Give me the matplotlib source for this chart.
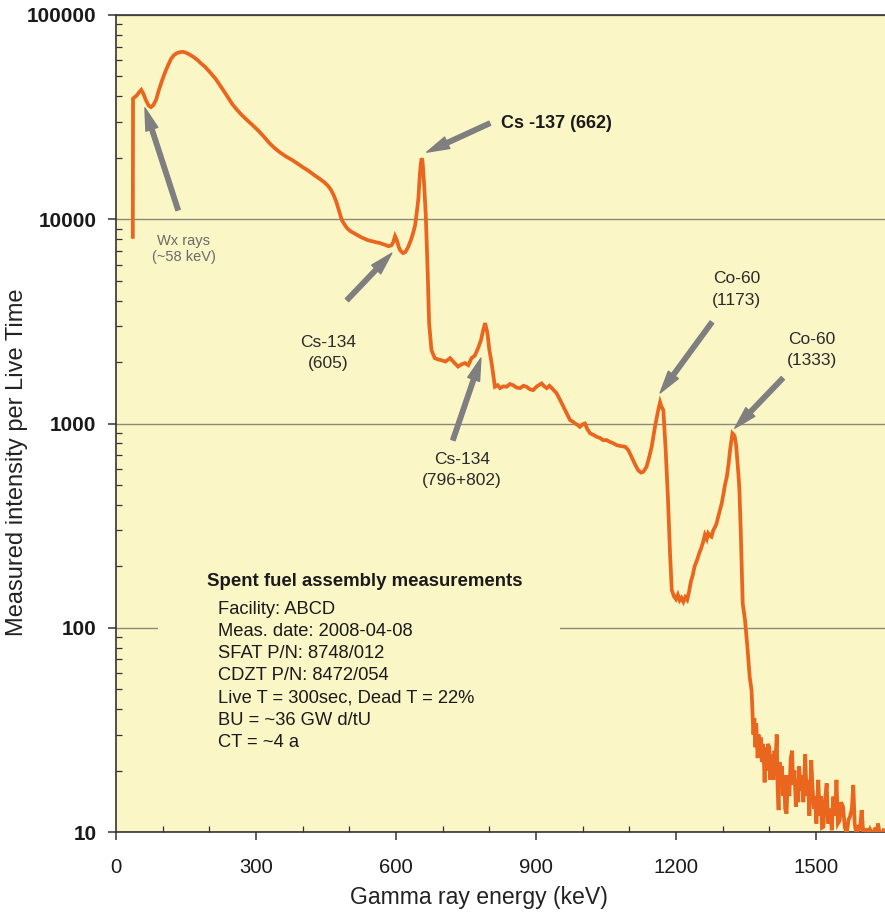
import matplotlib
matplotlib.use("Agg")
import matplotlib.pyplot as plt
from matplotlib.patches import Rectangle
from matplotlib.ticker import FixedLocator, MultipleLocator, LogLocator, NullFormatter

plt.rcParams['font.family'] = ['Liberation Sans', 'DejaVu Sans']

# Gamma spectrum of a spent fuel assembly (energy in keV, counts per live time)
energy_kev = [
    36, 36.5, 40, 45, 50, 54, 58, 64, 70, 75, 80, 86, 92, 99, 106, 112, 118, 124,
    130, 137, 144, 151, 158, 166, 174, 182, 190, 198, 206, 214, 222, 230, 240,
    250, 260, 270, 280, 292, 304, 316, 328, 340, 352, 364, 376, 388, 400, 412,
    424, 436, 446, 454, 460, 466, 472, 478, 484, 490, 496, 504, 514, 526, 540,
    554, 566, 576, 584, 590, 594, 598, 602, 606, 610, 615, 620, 626, 632, 637,
    641, 645, 648, 651, 653, 655, 657, 659, 661, 664, 668, 671, 676, 683, 690,
    698, 706, 716, 723, 733, 741, 748, 755, 762, 769, 776, 782, 787, 791, 796,
    800, 805, 812, 818, 823, 830, 837, 844, 851, 858, 866, 873, 880, 887, 894,
    902, 912, 918, 923, 929, 934, 944, 952, 959, 966, 973, 979, 984, 989, 994,
    1000, 1005, 1010, 1016, 1023, 1030, 1037, 1044, 1051, 1059, 1066, 1073,
    1082, 1091, 1098, 1103, 1108, 1114, 1119, 1125, 1130, 1137, 1143, 1148,
    1155, 1162, 1166, 1169, 1173, 1178, 1183, 1187, 1191, 1196, 1200, 1204,
    1208, 1212, 1216, 1220, 1224, 1228, 1232, 1236, 1240, 1245, 1250, 1254,
    1258, 1262, 1266, 1269, 1273, 1276, 1280, 1284, 1287, 1292, 1298, 1302,
    1305, 1309, 1313, 1316, 1319, 1321, 1324, 1326, 1329, 1331, 1334, 1336,
    1339, 1343, 1348, 1353, 1358, 1362, 1364, 1366, 1368, 1370, 1372, 1375,
    1377, 1380, 1382, 1384, 1386, 1388, 1390, 1392, 1394, 1397, 1400, 1402,
    1405, 1407, 1409, 1411, 1413, 1416, 1418, 1420, 1422, 1425, 1427, 1430,
    1432, 1434, 1437, 1440, 1443, 1446, 1449, 1451, 1454, 1457, 1460, 1462,
    1464, 1467, 1470, 1473, 1477, 1480, 1483, 1486, 1490, 1493, 1496, 1498,
    1501, 1505, 1508, 1511, 1513, 1516, 1519, 1523, 1526, 1529, 1531, 1534,
    1537, 1541, 1544, 1547, 1551, 1554, 1558, 1562, 1566, 1570, 1573, 1577,
    1580, 1583, 1587, 1591, 1594, 1598, 1601, 1605, 1609, 1612, 1616, 1619,
    1623, 1627, 1630, 1633, 1637, 1641, 1645,
]
counts = [
    8200, 39000, 39600, 40500, 42000, 43000, 41500, 38300, 36000, 35400, 36200,
    38500, 43000, 48000, 53000, 57000, 61000, 63500, 65000, 65800, 66000, 65200,
    64000, 62300, 60400, 58000, 56000, 53500, 51000, 48500, 45600, 42800, 39500,
    36400, 34200, 32300, 30700, 29000, 27300, 25500, 23700, 22300, 21200, 20300,
    19600, 18800, 18000, 17300, 16500, 15800, 15200, 14600, 14000, 13200, 12200,
    11000, 9900, 9400, 9000, 8700, 8450, 8150, 7900, 7750, 7640, 7500, 7380,
    7450, 7700, 8270, 7900, 7300, 7000, 6830, 6900, 7300, 7900, 8600, 9350,
    11000, 12600, 16400, 18500, 19900, 19100, 16500, 13900, 10300, 5450, 3100,
    2290, 2090, 2060, 2040, 2010, 2090, 2005, 1900, 1950, 1975, 1930, 2090,
    2150, 2340, 2550, 2870, 3100, 2770, 2300, 1975, 1513, 1540, 1490, 1520,
    1513, 1560, 1540, 1500, 1490, 1530, 1513, 1470, 1457, 1520, 1571, 1520,
    1490, 1530, 1490, 1409, 1300, 1208, 1120, 1040, 1020, 1000, 985, 963, 990,
    1000, 940, 895, 880, 861, 850, 829, 830, 812, 800, 783, 775, 770, 741, 700,
    662, 620, 591, 575, 580, 614, 690, 770, 963, 1163, 1270, 1208, 1163, 741,
    422, 240, 153, 142, 138, 145, 136, 140, 134, 141, 137, 150, 168, 181, 200,
    214, 232, 245, 262, 285, 272, 290, 282, 279, 300, 312, 324, 360, 406, 455,
    500, 548, 640, 741, 830, 895, 880, 861, 780, 687, 560, 472, 290, 132, 109,
    81, 57.5, 49.5, 38, 30, 36, 26, 34, 23, 30, 25, 29, 22, 27, 24, 17.5, 26,
    20, 27, 26, 18, 24, 19, 18, 25, 21, 30, 16, 12.8, 22, 17, 21, 15, 19, 13,
    12.3, 19, 15, 23, 25, 17, 20, 13.3, 18, 14, 21, 16, 19, 14, 24, 15, 18, 12,
    22.5, 16, 13, 14.9, 11, 18, 12, 15, 10.5, 10.6, 14, 17.3, 11, 13, 12.3,
    10.2, 14.9, 12, 18, 11, 11.4, 14, 13.3, 10.5, 9.9, 11.5, 11.9, 13, 17, 11,
    9.6, 10.8, 10.2, 12.8, 10.1, 9.5, 10.4, 9.7, 10.3, 10.0, 9.6, 10.5, 9.8,
    11.0, 9.7, 9.5, 10.2,
]

# Peak labels: text, text centre (keV, counts), arrow tail, arrow head
peak_labels = ["Cs-134\n(605)", "Cs-134\n(796+802)", "Co-60\n(1173)", "Co-60\n(1333)"]
label_xy = [(454, 2213), (741, 591), (1330, 4520), (1492, 2285)]
arrow_tail = [(495, 4020), (722, 830), (1277, 3130), (1429, 1667)]
arrow_head = [(591, 6820), (782, 2090), (1166, 1410), (1326, 948)]

cs137_label = "Cs -137 (662)"
cs137_text = (825, 29500)
cs137_tail = (801, 29500)
cs137_head = (666, 21300)

wx_label = "Wx rays\n(~58 keV)"
wx_text = (145, 7180)
wx_tail = (133, 11100)
wx_head = (62, 35100)

info_title = "Spent fuel assembly measurements"
info_lines = [
    "Facility: ABCD",
    "Meas. date: 2008-04-08",
    "SFAT P/N: 8748/012",
    "CDZT P/N: 8472/054",
    "Live T = 300sec, Dead T = 22%",
    "BU = ~36 GW d/tU",
    "CT = ~4 a",
]

x_ticks = [0, 300, 600, 900, 1200, 1500]
y_ticks = [10, 100, 1000, 10000, 100000]

bg = "#faf6c6"
line_col = "#ea661f"
arrow_col = "#7f7f7f"
ink = "#2b2b2b"

fig = plt.figure(figsize=(8.85, 9.15), dpi=100)
ax = fig.add_axes([116 / 885, 1 - 832 / 915, 769 / 885, 817 / 915])
ax.set_facecolor(bg)

ax.plot(energy_kev, counts, color=line_col, lw=2.7, zorder=3, solid_joinstyle="miter")

ax.set_yscale("log")
ax.set_xlim(0, 1648)
ax.set_ylim(10, 100000)

ax.yaxis.set_major_locator(FixedLocator(y_ticks))
ax.set_yticklabels([str(v) for v in y_ticks])
ax.yaxis.set_minor_locator(LogLocator(base=10, subs=range(2, 10)))
ax.yaxis.set_minor_formatter(NullFormatter())
ax.xaxis.set_major_locator(FixedLocator(x_ticks))
ax.set_xticklabels([str(v) for v in x_ticks])
ax.xaxis.set_minor_locator(MultipleLocator(100))

ax.yaxis.grid(True, which="major", color="#8a8a78", lw=1.0)
ax.set_axisbelow(True)

for s in ["left", "bottom", "top"]:
    ax.spines[s].set_color("#333333")
    ax.spines[s].set_linewidth(1.2)
ax.spines["right"].set_visible(False)

ax.tick_params(axis="both", which="major", direction="out", length=6, width=1.1, color="#333333")
ax.tick_params(axis="both", which="minor", direction="in", length=4, width=0.9, color="#333333")
ax.tick_params(axis="y", which="major", pad=8, labelsize=14.9, labelcolor="#1a1a1a")
ax.tick_params(axis="x", which="major", pad=12.5, labelsize=14.6, labelcolor="#1a1a1a")
for t in ax.get_yticklabels():
    t.set_fontweight("bold")

ax.set_xlabel("Gamma ray energy (keV)", fontsize=16.6, color="#222222")
ax.xaxis.set_label_coords(0.472, -0.066)
ax.set_ylabel("Measured intensity per Live Time", fontsize=17, color="#222222")
ax.yaxis.set_label_coords(-0.115, 0.452)

# blank panel behind the measurement notes (hides the 100 gridline)
ax.add_patch(Rectangle((0.054, 0.09), 0.524, 0.25, transform=ax.transAxes,
                       facecolor=bg, edgecolor="none", zorder=1.6))

ax.text(0.1183, 0.3072, info_title, transform=ax.transAxes, fontsize=13.4,
        fontweight="bold", color="#1a1a1a", ha="left", va="center", zorder=4)
for i, line in enumerate(info_lines):
    ax.text(0.1326, 0.2729 - i * 0.0273, line, transform=ax.transAxes,
            fontsize=13.2, color="#1a1a1a", ha="left", va="center", zorder=4)

arrow_style = "simple,head_length=0.9,head_width=0.5,tail_width=0.18"

for txt, (tx, ty), tail, head in zip(peak_labels, label_xy, arrow_tail, arrow_head):
    ax.annotate("", xy=head, xytext=tail,
                arrowprops=dict(arrowstyle=arrow_style, color=arrow_col,
                                mutation_scale=18, shrinkA=0, shrinkB=0), zorder=4)
    ax.text(tx, ty, txt, fontsize=12.5, color=ink, ha="center", va="center",
            linespacing=1.55, zorder=4)

ax.annotate("", xy=cs137_head, xytext=cs137_tail,
            arrowprops=dict(arrowstyle=arrow_style, color=arrow_col,
                            mutation_scale=18, shrinkA=0, shrinkB=0), zorder=4)
ax.text(cs137_text[0], cs137_text[1], cs137_label, fontsize=13, fontweight="bold",
        color="#1a1a1a", ha="left", va="center", zorder=4)

ax.annotate("", xy=wx_head, xytext=wx_tail,
            arrowprops=dict(arrowstyle=arrow_style, color=arrow_col,
                            mutation_scale=18, shrinkA=0, shrinkB=0), zorder=4)
ax.text(wx_text[0], wx_text[1], wx_label, fontsize=10.5, color="#6a6a6a",
        ha="center", va="center", linespacing=1.2, zorder=4)

fig.savefig("out.png", dpi=100, facecolor="white")
